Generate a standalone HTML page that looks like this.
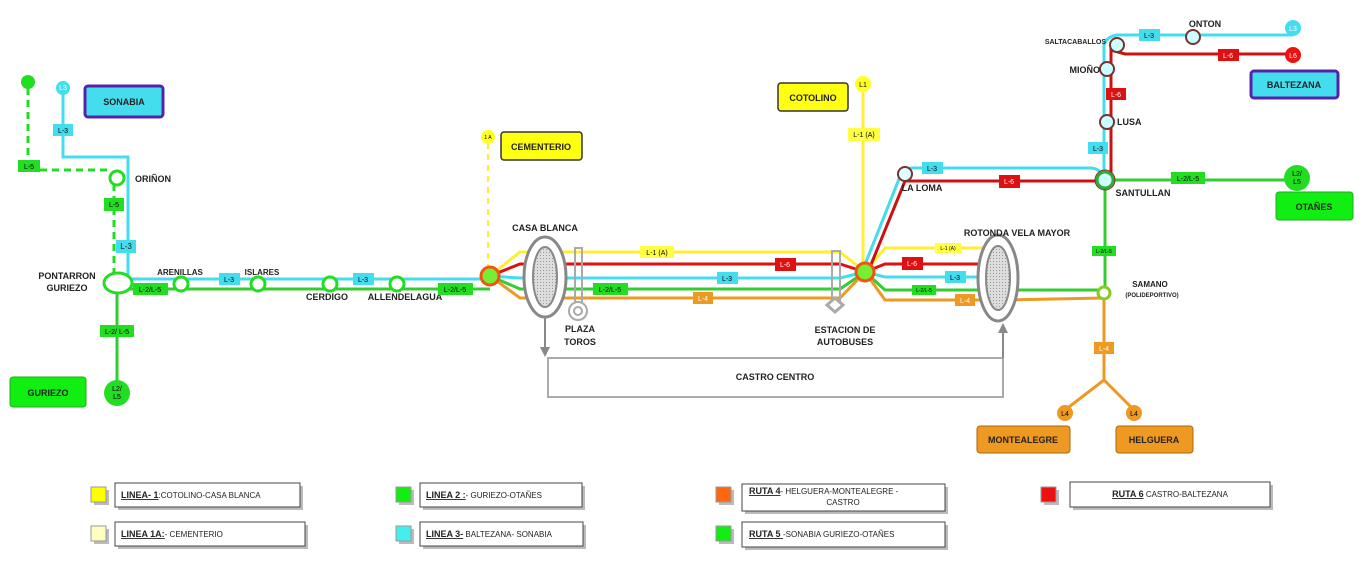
<!DOCTYPE html>
<html><head><meta charset="utf-8"><style>
body{margin:0;background:#fff;}
svg{display:block;font-family:"Liberation Sans",sans-serif;}
.st{font-size:9px;font-weight:bold;fill:#222;}
.lb{font-size:7px;}
</style></head><body>
<svg width="1366" height="577" viewBox="0 0 1366 577" xmlns="http://www.w3.org/2000/svg">
<defs>
<pattern id="h" width="3" height="3" patternUnits="userSpaceOnUse"><rect width="3" height="3" fill="#ddd"/><rect width="1" height="1" fill="#999"/></pattern>
</defs>
<!-- castro centro -->
<rect x="548" y="358" width="455" height="39" fill="#fff" stroke="#aaa" stroke-width="2"/>
<text x="775" y="380" class="st" text-anchor="middle">CASTRO CENTRO</text>
<line x1="545" y1="315" x2="545" y2="348" stroke="#888" stroke-width="2"/>
<path d="M540,347 L550,347 L545,357 Z" fill="#888"/>
<line x1="1003" y1="358" x2="1003" y2="332" stroke="#888" stroke-width="2"/>
<path d="M998,333 L1008,333 L1003,323 Z" fill="#888"/>

<!-- left -->
<circle cx="28" cy="82" r="7" fill="#22dd22"/>
<path d="M28,88 V166 M28,170 H112 M114,184 V275" stroke="#22dd22" stroke-width="3" stroke-dasharray="7,5" fill="none"/>
<path d="M63,94 V157 H128 V283" stroke="#44ddee" stroke-width="3" fill="none"/>
<circle cx="63" cy="88" r="7" fill="#44ddee"/><text x="63" y="90" class="lb" fill="#fff" text-anchor="middle">L3</text>
<rect x="18" y="160" width="22" height="12" fill="#22dd22"/><text x="29" y="169" class="lb" text-anchor="middle">L-5</text>
<rect x="53" y="124" width="20" height="12" fill="#44ddee"/><text x="63" y="133" class="lb" text-anchor="middle">L-3</text>
<rect x="104" y="198" width="20" height="13" fill="#22dd22"/><text x="114" y="207" class="lb" text-anchor="middle">L-5</text>
<rect x="116" y="240" width="20" height="13" fill="#44ddee"/><text x="126" y="249" class="st" text-anchor="middle" style="font-weight:normal;font-size:8px">L-3</text>
<rect x="85" y="86" width="78" height="31" rx="3" fill="#44ddee" stroke="#5522aa" stroke-width="3"/>
<text x="124" y="105" class="st" text-anchor="middle">SONABIA</text>
<circle cx="117" cy="178" r="7" fill="#fff" stroke="#22dd22" stroke-width="3"/>
<text x="135" y="182" class="st">ORIÑON</text>
<line x1="117" y1="283" x2="117" y2="392" stroke="#33cc33" stroke-width="3"/>
<rect x="100" y="325" width="34" height="12" fill="#22dd22"/><text x="117" y="334" class="lb" text-anchor="middle">L-2/ L-5</text>
<circle cx="117" cy="393" r="13" fill="#22dd22"/><text x="117" y="391" class="lb" text-anchor="middle">L2/</text><text x="117" y="399" class="lb" text-anchor="middle">L5</text>
<rect x="10" y="377" width="76" height="30" rx="3" fill="#11ee11" stroke="#22aa22"/>
<text x="48" y="396" class="st" text-anchor="middle">GURIEZO</text>

<line x1="128" y1="279" x2="490" y2="279" stroke="#44ddee" stroke-width="3"/>
<line x1="128" y1="289" x2="490" y2="289" stroke="#33cc33" stroke-width="3"/>
<ellipse cx="118" cy="283" rx="14" ry="10" fill="#fff" stroke="#22dd22" stroke-width="3"/>
<text x="67" y="279" class="st" text-anchor="middle">PONTARRON</text><text x="67" y="291" class="st" text-anchor="middle">GURIEZO</text>
<g fill="#fff" stroke="#22dd22" stroke-width="3">
<circle cx="181" cy="284" r="7"/><circle cx="258" cy="284" r="7"/><circle cx="330" cy="284" r="7"/><circle cx="397" cy="284" r="7"/></g>
<text x="180" y="275" class="st" text-anchor="middle" style="font-size:8px">ARENILLAS</text>
<text x="262" y="275" class="st" text-anchor="middle" style="font-size:8px">ISLARES</text>
<text x="327" y="300" class="st" text-anchor="middle">CERDIGO</text>
<text x="405" y="300" class="st" text-anchor="middle">ALLENDELAGUA</text>
<rect x="133" y="283" width="35" height="12" fill="#22dd22"/><text x="150" y="292" class="lb" text-anchor="middle">L-2/L-5</text>
<rect x="219" y="273" width="21" height="12" fill="#44ddee"/><text x="229" y="282" class="lb" text-anchor="middle">L-3</text>
<rect x="353" y="273" width="21" height="12" fill="#44ddee"/><text x="363" y="282" class="lb" text-anchor="middle">L-3</text>
<rect x="438" y="283" width="35" height="12" fill="#22dd22"/><text x="455" y="292" class="lb" text-anchor="middle">L-2/L-5</text>

<!-- cementerio -->
<line x1="488" y1="143" x2="488" y2="268" stroke="#ffee33" stroke-width="2" stroke-dasharray="6,5"/>
<circle cx="488" cy="137" r="7" fill="#ffff22"/><text x="488" y="139" class="lb" text-anchor="middle" style="font-size:5px">1 A</text>
<rect x="501" y="132" width="81" height="28" rx="3" fill="#ffff11" stroke="#333" stroke-width="1.5"/>
<text x="541" y="150" class="st" text-anchor="middle">CEMENTERIO</text>

<!-- trunk lines -->
<g fill="none" stroke-width="3">
<path d="M490,276 L520,252 H840 L865,272" stroke="#ffee33"/>
<path d="M490,276 L520,264 H840 L865,272" stroke="#dd1111"/>
<path d="M490,276 L520,278 H840 L865,272" stroke="#44ddee"/>
<path d="M490,276 L520,289 H840 L865,272" stroke="#33cc33"/>
<path d="M490,276 L520,298 H840 L865,272" stroke="#ee9922"/>
<path d="M865,272 L885,248 H990" stroke="#ffee33"/>
<path d="M865,272 L885,264 H990" stroke="#dd1111"/>
<path d="M865,272 L885,277 H990" stroke="#44ddee"/>
<path d="M865,272 L885,290 H1104" stroke="#33cc33"/>
<path d="M865,272 L885,300 H1000 L1104,298" stroke="#ee9922"/>
<path d="M863,84 V272" stroke="#ffee33"/>
<path d="M862,272 L901,174 Q905,168 912,168 H1090 Q1100,168 1104,178 V45 Q1106,37 1117,35 H1293" stroke="#44ddee"/>
<path d="M868,272 L905,181 H1111 V50 L1125,54 H1293" stroke="#cc1111"/>
<path d="M1105,180 H1297 M1105,180 V293" stroke="#33cc33"/>
<path d="M1104,298 V380 L1065,410 M1104,380 L1134,410" stroke="#ee9922"/>
</g>
<!-- trunk labels -->
<rect x="640" y="246" width="34" height="12" fill="#ffff44"/><text x="657" y="255" class="lb" text-anchor="middle">L-1 (A)</text>
<rect x="775" y="258" width="21" height="13" fill="#dd1111"/><text x="785" y="267" class="lb" fill="#fff" text-anchor="middle">L-6</text>
<rect x="717" y="272" width="21" height="12" fill="#44ddee"/><text x="727" y="281" class="lb" text-anchor="middle">L-3</text>
<rect x="593" y="283" width="35" height="12" fill="#22dd22"/><text x="610" y="292" class="lb" text-anchor="middle">L-2/L-5</text>
<rect x="693" y="292" width="20" height="12" fill="#ee9922"/><text x="703" y="301" class="lb" fill="#fff" text-anchor="middle">L-4</text>
<rect x="848" y="128" width="32" height="13" fill="#ffff44"/><text x="864" y="137" class="lb" text-anchor="middle">L-1 (A)</text>
<rect x="935" y="243" width="26" height="10" fill="#ffff44"/><text x="948" y="250" class="lb" text-anchor="middle" style="font-size:5px">L-1 (A)</text>
<rect x="902" y="257" width="21" height="13" fill="#dd1111"/><text x="912" y="266" class="lb" fill="#fff" text-anchor="middle">L-6</text>
<rect x="945" y="271" width="21" height="12" fill="#44ddee"/><text x="955" y="280" class="lb" text-anchor="middle">L-3</text>
<rect x="912" y="285" width="24" height="10" fill="#22dd22"/><text x="924" y="292" class="lb" text-anchor="middle" style="font-size:5px">L-2/L-5</text>
<rect x="955" y="294" width="20" height="12" fill="#ee9922"/><text x="965" y="303" class="lb" fill="#fff" text-anchor="middle">L-4</text>
<rect x="922" y="162" width="21" height="12" fill="#44ddee"/><text x="932" y="171" class="lb" text-anchor="middle">L-3</text>
<rect x="999" y="175" width="21" height="13" fill="#dd1111"/><text x="1009" y="184" class="lb" fill="#fff" text-anchor="middle">L-6</text>

<!-- casa blanca -->
<circle cx="490" cy="276" r="9" fill="#77ee33" stroke="#ee5511" stroke-width="3"/>
<ellipse cx="545" cy="277" rx="21" ry="40" fill="#fff" stroke="#888" stroke-width="3"/>
<ellipse cx="545" cy="277" rx="12" ry="30" fill="url(#h)" stroke="#888" stroke-width="2"/>
<text x="545" y="231" class="st" text-anchor="middle">CASA BLANCA</text>
<rect x="575" y="248" width="7" height="55" fill="none" stroke="#aaa" stroke-width="2"/>
<circle cx="578" cy="311" r="9" fill="#fff" stroke="#aaa" stroke-width="2"/><circle cx="578" cy="311" r="4" fill="none" stroke="#aaa" stroke-width="2"/>
<text x="580" y="332" class="st" text-anchor="middle">PLAZA</text><text x="580" y="345" class="st" text-anchor="middle">TOROS</text>
<rect x="832" y="251" width="8" height="50" fill="none" stroke="#aaa" stroke-width="2"/>
<path d="M827,305 L835,298 L843,305 L835,312 Z" fill="#fff" stroke="#aaa" stroke-width="3"/>
<text x="845" y="333" class="st" text-anchor="middle">ESTACION DE</text><text x="845" y="345" class="st" text-anchor="middle">AUTOBUSES</text>
<circle cx="865" cy="272" r="9" fill="#77ee33" stroke="#ee5511" stroke-width="3"/>
<circle cx="863" cy="84" r="8" fill="#ffff22"/><text x="863" y="87" class="lb" text-anchor="middle">L1</text>
<rect x="778" y="83" width="70" height="28" rx="3" fill="#ffff11" stroke="#333" stroke-width="1.5"/>
<text x="813" y="101" class="st" text-anchor="middle">COTOLINO</text>
<circle cx="905" cy="174" r="7" fill="#ddffff" stroke="#773333" stroke-width="2"/>
<text x="922" y="191" class="st" text-anchor="middle">LA LOMA</text>
<ellipse cx="998" cy="278" rx="20" ry="43" fill="#fff" stroke="#888" stroke-width="3"/>
<ellipse cx="998" cy="278" rx="12" ry="32" fill="url(#h)" stroke="#888" stroke-width="2"/>
<text x="1017" y="236" class="st" text-anchor="middle">ROTONDA VELA MAYOR</text>

<!-- right -->
<circle cx="1105" cy="180" r="8" fill="#ccffff" stroke="#33aa33" stroke-width="3"/>
<circle cx="1105" cy="180" r="10" fill="none" stroke="#773333" stroke-width="1"/>
<text x="1143" y="196" class="st" text-anchor="middle">SANTULLAN</text>
<g fill="#ccffff" stroke="#773333" stroke-width="2"><circle cx="1107" cy="122" r="7"/><circle cx="1107" cy="69" r="7"/><circle cx="1117" cy="45" r="7"/><circle cx="1193" cy="37" r="7"/></g>
<text x="1117" y="125" class="st">LUSA</text>
<text x="1100" y="73" class="st" text-anchor="end">MIOÑO</text>
<text x="1106" y="44" class="st" text-anchor="end" style="font-size:7px">SALTACABALLOS</text>
<text x="1205" y="27" class="st" text-anchor="middle">ONTON</text>
<rect x="1088" y="142" width="20" height="12" fill="#44ddee"/><text x="1098" y="151" class="lb" text-anchor="middle">L-3</text>
<rect x="1106" y="88" width="20" height="12" fill="#dd1111"/><text x="1116" y="97" class="lb" fill="#fff" text-anchor="middle">L-6</text>
<rect x="1139" y="29" width="21" height="12" fill="#44ddee"/><text x="1149" y="38" class="lb" text-anchor="middle">L-3</text>
<rect x="1218" y="49" width="21" height="12" fill="#dd1111"/><text x="1228" y="58" class="lb" fill="#fff" text-anchor="middle">L-6</text>
<circle cx="1293" cy="28" r="8" fill="#44ddee"/><text x="1293" y="31" class="lb" fill="#fff" text-anchor="middle">L3</text>
<circle cx="1293" cy="55" r="8" fill="#ee1111"/><text x="1293" y="58" class="lb" fill="#fff" text-anchor="middle">L6</text>
<rect x="1251" y="71" width="87" height="27" rx="3" fill="#44ddee" stroke="#5522aa" stroke-width="3"/>
<text x="1294" y="88" class="st" text-anchor="middle">BALTEZANA</text>
<rect x="1171" y="172" width="34" height="12" fill="#22dd22"/><text x="1188" y="181" class="lb" text-anchor="middle">L-2/L-5</text>
<circle cx="1297" cy="178" r="13" fill="#22dd22"/><text x="1297" y="176" class="lb" text-anchor="middle">L2/</text><text x="1297" y="184" class="lb" text-anchor="middle">L5</text>
<rect x="1276" y="192" width="77" height="28" rx="3" fill="#11ee11" stroke="#22aa22"/>
<text x="1314" y="210" class="st" text-anchor="middle">OTAÑES</text>
<rect x="1092" y="246" width="24" height="10" fill="#22dd22"/><text x="1104" y="253" class="lb" text-anchor="middle" style="font-size:5px">L-2/L-5</text>
<circle cx="1104" cy="293" r="6" fill="#fff" stroke="#88cc22" stroke-width="3"/>
<text x="1150" y="287" class="st" text-anchor="middle" style="font-size:8px">SAMANO</text>
<text x="1152" y="297" class="st" text-anchor="middle" style="font-size:6px">(POLIDEPORTIVO)</text>
<rect x="1094" y="342" width="20" height="12" fill="#ee9922"/><text x="1104" y="351" class="lb" fill="#fff" text-anchor="middle">L-4</text>
<circle cx="1065" cy="413" r="8" fill="#ee9922"/><text x="1065" y="416" class="lb" text-anchor="middle">L4</text>
<circle cx="1134" cy="413" r="8" fill="#ee9922"/><text x="1134" y="416" class="lb" text-anchor="middle">L4</text>
<rect x="977" y="426" width="93" height="27" rx="3" fill="#ee9922" stroke="#aa6611"/>
<text x="1023" y="443" class="st" text-anchor="middle">MONTEALEGRE</text>
<rect x="1116" y="426" width="77" height="27" rx="3" fill="#ee9922" stroke="#aa6611"/>
<text x="1154" y="443" class="st" text-anchor="middle">HELGUERA</text>

<!-- legend -->
<g fill="#bbb">
<rect x="94" y="490" width="15" height="15"/><rect x="94" y="529" width="15" height="15"/>
<rect x="399" y="490" width="15" height="15"/><rect x="399" y="529" width="15" height="15"/>
<rect x="719" y="490" width="15" height="15"/><rect x="719" y="529" width="15" height="15"/>
<rect x="1044" y="490" width="15" height="15"/>
<rect x="118" y="486" width="185" height="24"/><rect x="118" y="525" width="190" height="24"/>
<rect x="423" y="486" width="162" height="24"/><rect x="423" y="525" width="163" height="24"/>
<rect x="745" y="487" width="203" height="27"/><rect x="745" y="525" width="203" height="25"/>
<rect x="1073" y="485" width="200" height="25"/>
</g>
<g stroke="#444" stroke-width="1">
<rect x="91" y="487" width="15" height="15" fill="#ffff00" stroke="#999"/>
<rect x="91" y="526" width="15" height="15" fill="#ffffc0" stroke="#999"/>
<rect x="396" y="487" width="15" height="15" fill="#11ee11" stroke="#999"/>
<rect x="396" y="526" width="15" height="15" fill="#44eeee" stroke="#999"/>
<rect x="716" y="487" width="15" height="15" fill="#ff6611" stroke="#999"/>
<rect x="716" y="526" width="15" height="15" fill="#11ee11" stroke="#999"/>
<rect x="1041" y="487" width="15" height="15" fill="#ee1111" stroke="#999"/>
<rect x="115" y="483" width="185" height="24" fill="#fff"/>
<rect x="115" y="522" width="190" height="24" fill="#fff"/>
<rect x="420" y="483" width="162" height="24" fill="#fff"/>
<rect x="420" y="522" width="163" height="24" fill="#fff"/>
<rect x="742" y="484" width="203" height="27" fill="#fff"/>
<rect x="742" y="522" width="203" height="25" fill="#fff"/>
<rect x="1070" y="482" width="200" height="25" fill="#fff"/>
</g>
<g font-size="8" fill="#222">
<text x="121" y="498"><tspan font-weight="bold" text-decoration="underline" font-size="9">LINEA- 1</tspan>:COTOLINO-CASA BLANCA</text>
<text x="121" y="537"><tspan font-weight="bold" text-decoration="underline" font-size="9">LINEA 1A:</tspan>- CEMENTERIO</text>
<text x="426" y="498"><tspan font-weight="bold" text-decoration="underline" font-size="9">LINEA 2 :</tspan>- GURIEZO-OTAÑES</text>
<text x="426" y="537"><tspan font-weight="bold" text-decoration="underline" font-size="9">LINEA 3-</tspan> BALTEZANA- SONABIA</text>
<text x="749" y="494"><tspan font-weight="bold" text-decoration="underline" font-size="9">RUTA 4</tspan>- HELGUERA-MONTEALEGRE -</text>
<text x="843" y="505" text-anchor="middle">CASTRO</text>
<text x="749" y="537"><tspan font-weight="bold" text-decoration="underline" font-size="9">RUTA 5 </tspan>-SONABIA GURIEZO-OTAÑES</text>
<text x="1170" y="497" text-anchor="middle"><tspan font-weight="bold" text-decoration="underline" font-size="9">RUTA 6</tspan> CASTRO-BALTEZANA</text>
</g>
</svg>
</body></html>
